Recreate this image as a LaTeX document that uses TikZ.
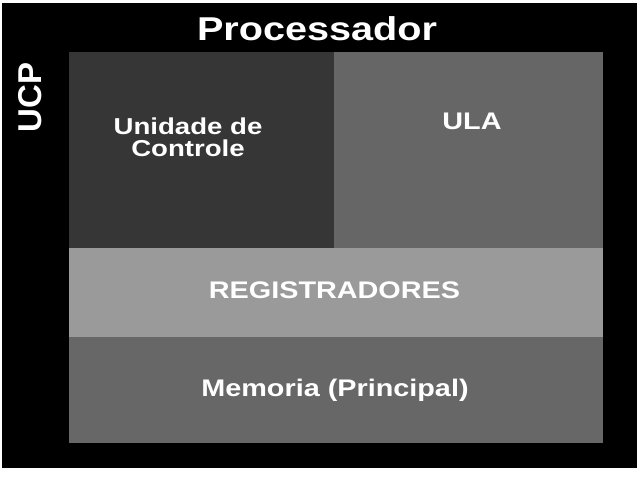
\documentclass[tikz,border=0pt]{standalone}
\usepackage{fontspec}
\setmainfont{Liberation Sans}
\definecolor{ucgray}{HTML}{363636}
\definecolor{ulagray}{HTML}{666666}
\definecolor{reggray}{HTML}{9A9A9A}
\definecolor{memgray}{HTML}{676767}
\tikzset{
  lbl/.style={text=white, inner sep=0pt, anchor=base, font=\bfseries\fontsize{24}{22.4}\selectfont},
  big/.style={text=white, inner sep=0pt, anchor=base, font=\bfseries\fontsize{33}{36}\selectfont}
}
\begin{document}
\begin{tikzpicture}[x=1pt,y=-1pt]
\useasboundingbox (0,0) rectangle (640,480);
\fill[white] (0,0) rectangle (640,480);
\fill[black] (2,3) rectangle (637,468);
\fill[ucgray] (69,52) rectangle (333.5,248.3);
\fill[ulagray] (333.5,52) rectangle (603,248.3);
\fill[reggray] (69,248.3) rectangle (603,336.7);
\fill[memgray] (69,336.7) rectangle (603,443);
\node[big] (proc) at (317,40) {\scalebox{1.2}[1]{Processador}};
\node[big, rotate=90] (ucp) at (41.7,97.5) {UCP};
\node[lbl, align=center, font=\bfseries\fontsize{23}{22.4}\selectfont] (uc) at (188,156.7) {\scalebox{1.2}[1]{Unidade de}\\\scalebox{1.2}[1]{Controle}};
\node[lbl] (ula) at (472,129.3) {\scalebox{1.2}[1]{ULA}};
\node[lbl] (reg) at (334.5,298.3) {\scalebox{1.2}[1]{REGISTRADORES}};
\node[lbl] (mem) at (335,396) {\scalebox{1.2}[1]{Memoria (Principal)}};
\end{tikzpicture}
\end{document}
